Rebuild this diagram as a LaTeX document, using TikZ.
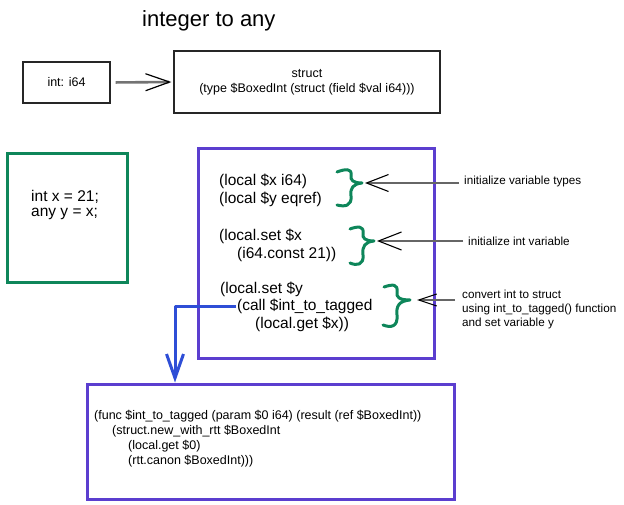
\documentclass[tikz,border=0pt]{standalone}
\usepackage{fontspec}
\setmainfont{Liberation Sans}
\usetikzlibrary{arrows.meta}
\definecolor{hgreen}{RGB}{14,134,90}
\definecolor{hpurple}{RGB}{91,62,207}
\definecolor{hblue}{RGB}{46,78,214}
\begin{document}
\begin{tikzpicture}[x=1pt,y=-1pt,
  blackbox/.style={draw=black!85,line width=1.3pt,inner sep=0pt},
  greenbox/.style={draw=hgreen,line width=3pt,inner sep=0pt},
  purplebox/.style={draw=hpurple,line width=3pt,inner sep=0pt},
  codeline/.style={font=\fontsize{15.5}{18}\selectfont,anchor=west,inner sep=0pt},
  smallcode/.style={font=\fontsize{12.5}{15}\selectfont,anchor=west,inner sep=0pt},
  annot/.style={font=\fontsize{11.7}{14}\selectfont,anchor=west,inner sep=0pt,align=left},
  bracestroke/.style={draw=hgreen,line width=3pt,line cap=round,line join=round},
  annarrow/.style={draw=black!60,line width=1.3pt},
]
\useasboundingbox (0,0) rectangle (624,505);

% title
\node[anchor=west,inner sep=0pt,font=\fontsize{22}{26}\selectfont] (title) at (142,21) {integer to any};

% top row
\node[blackbox,minimum width=87pt,minimum height=41pt,font=\fontsize{12.5}{15}\selectfont] (intbox) at (66.5,82.5) {int: i64};
\node[blackbox,minimum width=266pt,minimum height=62pt,align=center,font=\fontsize{12.5}{15}\selectfont] (structbox) at (307,82) {struct\\(type \$BoxedInt (struct (field \$val i64)))};
\draw[draw=black!55,line width=2.6pt,shorten <=5pt,shorten >=2pt,
  -{Straight Barb[length=24pt,width=17pt,line width=1.2pt,color=black]}] (intbox.east) -- (structbox.west);

% green source box
\node[greenbox,minimum width=120pt,minimum height=128pt] (srcbox) at (67,218) {};
\node[codeline] (src1) at (31,197) {int x = 21;};
\node[codeline] (src2) at (31,214) {any y = x;};

% purple code box
\node[purplebox,minimum width=236pt,minimum height=209pt] (codebox) at (316,253.5) {};
\node[codeline] (c1) at (219,181) {(local \$x i64)};
\node[codeline] (c2) at (219,199) {(local \$y eqref)};
\node[codeline] (c3) at (219,236) {(local.set \$x};
\node[codeline] (c4) at (237,254) {(i64.const 21))};
\node[codeline] (c5) at (220,289) {(local.set \$y};
\node[codeline] (c6) at (237,306) {(call \$int\_to\_tagged};
\node[codeline] (c7) at (255,324) {(local.get \$x))};

% braces
\draw[bracestroke] (337,172) .. controls (345,169) and (352,168) .. (351,175)
  .. controls (350,180) and (353,183) .. (362,183)
  .. controls (353,184) and (350,188) .. (351,196)
  .. controls (352,206) and (345,207) .. (337,205);
\draw[bracestroke] (350,229) .. controls (358,226) and (364,226) .. (363,233)
  .. controls (362,238) and (365,241) .. (374,241)
  .. controls (365,242) and (362,246) .. (363,255)
  .. controls (364,265) and (357,266) .. (350,263);
\draw[bracestroke] (384,287) .. controls (393,284) and (398,284) .. (397,292)
  .. controls (396,297) and (399,300) .. (410,300)
  .. controls (399,301) and (396,306) .. (397,315)
  .. controls (398,327) and (391,328) .. (383,325);
\coordinate (tip1) at (365,183);
\coordinate (tip2) at (377,241);
\coordinate (tip3) at (417,300);

% annotations
\node[annot] (a1) at (464,181) {initialize variable types};
\node[annot] (a2) at (468,241) {initialize int variable};
\node[annot] (a3) at (462,309) {convert int to struct\\using int\_to\_tagged() function\\and set variable y};
\draw[annarrow,shorten <=5pt,-{Straight Barb[length=22pt,width=17pt,line width=1.1pt,color=black]}] (a1.west |- tip1) -- (tip1);
\draw[annarrow,shorten <=5pt,-{Straight Barb[length=23pt,width=18pt,line width=1.1pt,color=black]}] (a2.west |- tip2) -- (tip2);
\draw[annarrow,shorten <=7pt,-{Straight Barb[length=18pt,width=12pt,line width=1.1pt,color=black]}] (a3.west |- tip3) -- (tip3);

% function box
\node[purplebox,minimum width=367pt,minimum height=115pt] (funcbox) at (270.5,441.5) {};
\node[smallcode] (f1) at (94,416) {(func \$int\_to\_tagged (param \$0 i64) (result (ref \$BoxedInt))};
\node[smallcode] (f2) at (112,431) {(struct.new\_with\_rtt \$BoxedInt};
\node[smallcode] (f3) at (128,446) {(local.get \$0)};
\node[smallcode] (f4) at (128,461) {(rtt.canon \$BoxedInt)))};

% blue connector
\coordinate (bend) at (175,306);
\draw[draw=hblue,line width=3pt,line join=round,
  -{Straight Barb[length=24pt,width=17pt,line width=3pt]}] ([xshift=-1pt]c6.west) -- (bend) -- (bend |- funcbox.north);
\end{tikzpicture}
\end{document}
